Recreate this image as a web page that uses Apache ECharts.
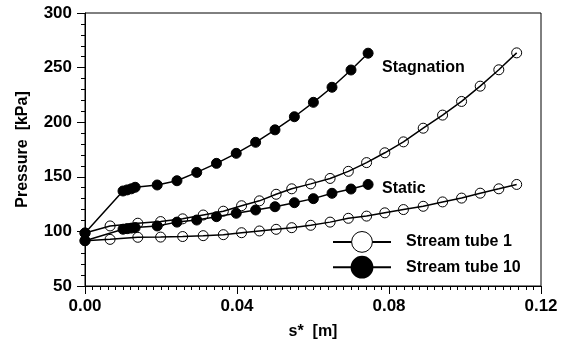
<!DOCTYPE html>
<html>
<head>
<meta charset="utf-8">
<script src="https://cdn.jsdelivr.net/npm/echarts@6/dist/echarts.min.js"></script>
<style>
  html, body { margin: 0; padding: 0; background: #fff; }
  #main { width: 565px; height: 347px; }
</style>
</head>
<body>
<div id="main"></div>
<script>
// stream tube 1 (open circles)
const sTube1 = [0, 0.0066, 0.0139, 0.0199, 0.0257, 0.0311, 0.0364, 0.0412, 0.0459, 0.0503, 0.0544, 0.0594,
  0.0645, 0.0693, 0.0741, 0.0789, 0.0838, 0.0890, 0.0941, 0.0991, 0.1040, 0.1089, 0.1136];
const stagTube1 = [98.5, 105, 107.5, 109, 111.5, 115, 118.5, 123.5, 128, 134, 139, 143.5,
  148.5, 155, 163, 172, 182, 194.5, 206.5, 219, 233, 248, 263.5];
const statTube1 = [91.5, 92.7, 94.6, 94.8, 95.3, 96.1, 97, 98.8, 100.4, 101.9, 103.4, 105.6,
  108.5, 112, 114, 117, 120, 123, 127, 130.5, 135, 139, 143];

// stream tube 10 (filled circles)
const sTube10 = [0, 0.0100, 0.0111, 0.0122, 0.0132, 0.0190, 0.0242, 0.0294, 0.0346, 0.0398, 0.0449,
  0.0500, 0.0551, 0.0601, 0.0650, 0.0700, 0.0745];
const stagTube10 = [98.5, 137, 138, 139, 140.4, 142.5, 146.4, 154, 162.3, 171.5, 181.6,
  193, 205, 218.2, 232, 247.8, 263.2];
const statTube10 = [91.5, 102, 102.5, 103, 103.5, 105, 108.5, 110.4, 113.5, 116.6, 119.6,
  122.6, 126.3, 130, 134.9, 138.8, 143];

const xTicks = [0, 0.04, 0.08, 0.12];
const yTicks = [50, 100, 150, 200, 250, 300];

function pairs(xs, ys) {
  return xs.map((x, i) => [x, ys[i]]);
}

const font = 'Liberation Sans, Arial, sans-serif';
const openStyle = { color: 'transparent', borderColor: '#000', borderWidth: 1 };
const fillStyle = { color: '#000', borderColor: '#000', borderWidth: 1 };
const lineStyle = { color: '#000', width: 1.5 };

let myChart = echarts.init(document.getElementById('main'));
let option = {
  backgroundColor: '#fff',
  animation: false,
  grid: {
    left: 85, right: 24, top: 13, bottom: 61,
    show: true, borderColor: '#000', borderWidth: 1
  },
  legend: {
    orient: 'vertical',
    left: 327,
    top: 226,
    itemWidth: 58,
    itemHeight: 26,
    itemGap: 3,
    textStyle: { fontFamily: font, fontSize: 16, fontWeight: 'bold', color: '#000', padding: [0, 0, 0, 10] },
    data: [
      { name: 'Stream tube 1', itemStyle: { color: '#fff', borderColor: '#000', borderWidth: 1 } },
      { name: 'Stream tube 10' }
    ]
  },
  xAxis: {
    type: 'value',
    min: xTicks[0],
    max: xTicks[xTicks.length - 1],
    interval: 0.04,
    name: 's*  [m]',
    nameLocation: 'middle',
    nameGap: 38,
    nameTextStyle: { fontFamily: font, fontSize: 16, fontWeight: 'bold', color: '#000' },
    axisLine: { lineStyle: { color: '#000', width: 1 } },
    axisTick: { show: true, length: 8, lineStyle: { color: '#000' } },
    minorTick: { show: true, splitNumber: 20, length: 4, lineStyle: { color: '#000' } },
    splitLine: { show: false },
    axisLabel: {
      fontFamily: font, fontSize: 17, fontWeight: 'bold', color: '#000', margin: 12,
      formatter: v => v.toFixed(2)
    }
  },
  yAxis: {
    type: 'value',
    min: yTicks[0],
    max: yTicks[yTicks.length - 1],
    interval: 50,
    name: 'Pressure  [kPa]',
    nameLocation: 'middle',
    nameGap: 54,
    nameTextStyle: { fontFamily: font, fontSize: 16, fontWeight: 'bold', color: '#000' },
    axisLine: { show: true, lineStyle: { color: '#000', width: 1 } },
    axisTick: { show: true, length: 8, lineStyle: { color: '#000' } },
    minorTick: { show: true, splitNumber: 5, length: 4, lineStyle: { color: '#000' } },
    splitLine: { show: false },
    axisLabel: { fontFamily: font, fontSize: 17, fontWeight: 'bold', color: '#000', margin: 13 }
  },
  series: [
    {
      name: 'Stream tube 1', type: 'line', data: pairs(sTube1, stagTube1),
      symbol: 'circle', symbolSize: 10, itemStyle: openStyle, lineStyle: lineStyle, z: 2
    },
    {
      name: 'Stream tube 1', type: 'line', data: pairs(sTube1, statTube1),
      symbol: 'circle', symbolSize: 10, itemStyle: openStyle, lineStyle: lineStyle, z: 2
    },
    {
      name: 'Stream tube 10', type: 'line', data: pairs(sTube10, stagTube10),
      symbol: 'circle', symbolSize: 10, itemStyle: fillStyle, lineStyle: lineStyle, z: 3,
      endLabel: {
        show: true, formatter: 'Stagnation', offset: [6, 14],
        fontFamily: font, fontSize: 16, fontWeight: 'bold', color: '#000'
      }
    },
    {
      name: 'Stream tube 10', type: 'line', data: pairs(sTube10, statTube10),
      symbol: 'circle', symbolSize: 10, itemStyle: fillStyle, lineStyle: lineStyle, z: 3,
      endLabel: {
        show: true, formatter: 'Static', offset: [6, 4],
        fontFamily: font, fontSize: 16, fontWeight: 'bold', color: '#000'
      }
    }
  ]
};
myChart.setOption(option);
</script>
</body>
</html>
